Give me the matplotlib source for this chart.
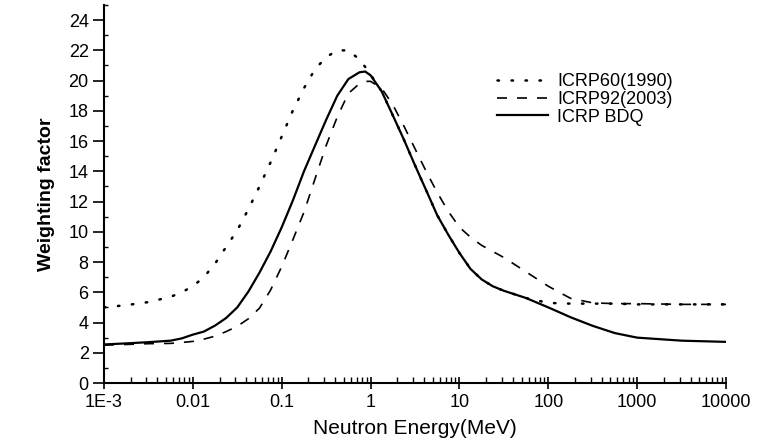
import matplotlib
matplotlib.use('Agg')
import matplotlib.pyplot as plt
from matplotlib.ticker import MultipleLocator, FixedLocator, FixedFormatter, NullFormatter, LogLocator

plt.rcParams['font.family'] = ['Liberation Sans', 'DejaVu Sans']

#----------------------------------------------------
# Data (neutron energy in MeV)
#----------------------------------------------------
energy = [0.001, 0.00178, 0.00316, 0.00562, 0.0075, 0.01, 0.0133, 0.0178,
          0.0237, 0.0316, 0.0422, 0.0562, 0.075, 0.1, 0.133, 0.178, 0.237,
          0.316, 0.422, 0.562, 0.75, 0.87, 1.0, 1.33, 1.78, 2.37, 3.16, 4.22,
          5.62, 7.5, 10.0, 13.3, 17.8, 23.7, 31.6, 56.2, 100.0, 133.0, 178.0,
          316.0, 562.0, 1000.0, 3162.0, 10000.0]

icrp60 = [5.0, 5.15, 5.35, 5.7, 6.0, 6.4, 7.0, 7.9,
          9.0, 10.1, 11.5, 13.0, 14.6, 16.3, 18.0, 19.5, 20.75,
          21.55, 22.0, 22.0, 21.4, 20.9, 20.4, 19.3, 17.7, 16.1, 14.4, 12.75,
          11.1, 9.8, 8.6, 7.55, 6.85, 6.4, 6.1, 5.62, 5.3, 5.27, 5.25,
          5.25, 5.25, 5.2, 5.2, 5.2]

icrp92 = [2.5, 2.55, 2.6, 2.62, 2.68, 2.75, 2.9, 3.1,
          3.4, 3.75, 4.25, 4.95, 6.15, 7.7, 9.45, 11.3, 13.5,
          15.7, 17.6, 19.15, 19.8, 19.95, 19.95, 19.5, 18.4, 17.0, 15.5, 14.0,
          12.6, 11.35, 10.3, 9.65, 9.1, 8.7, 8.3, 7.35, 6.4, 6.0, 5.6,
          5.3, 5.25, 5.25, 5.2, 5.2]

icrp_bdq = [2.55, 2.62, 2.7, 2.8, 2.95, 3.2, 3.4, 3.8,
            4.3, 5.0, 6.05, 7.3, 8.7, 10.3, 12.05, 14.0, 15.7,
            17.4, 19.0, 20.1, 20.55, 20.6, 20.35, 19.3, 17.7, 16.1, 14.4, 12.75,
            11.1, 9.8, 8.6, 7.55, 6.85, 6.4, 6.1, 5.62, 5.0, 4.68, 4.35,
            3.78, 3.3, 3.0, 2.8, 2.72]

labels = ['ICRP60(1990)', 'ICRP92(2003)', 'ICRP BDQ']
xtick_vals = [1e-3, 1e-2, 1e-1, 1, 10, 100, 1000, 10000]
xtick_labels = ['1E-3', '0.01', '0.1', '1', '10', '100', '1000', '10000']

#----------------------------------------------------
# Plot
#----------------------------------------------------
fig = plt.figure(figsize=(7.63, 4.43), dpi=100)
ax = fig.add_axes([104/763, 60/443, (726-104)/763, (383-5)/443])

ax.plot(energy, icrp60, color='black', linewidth=1.8, linestyle=(0, (0.6, 5)),
        dash_capstyle='round', label=labels[0])
ax.plot(energy, icrp92, color='black', linewidth=1.2, linestyle=(0, (6, 6)), label=labels[1])
ax.plot(energy, icrp_bdq, color='black', linewidth=1.6, linestyle='-', label=labels[2])

ax.set_xscale('log')
ax.set_xlim(1e-3, 1e4)
ax.set_ylim(0, 25)

ax.xaxis.set_major_locator(FixedLocator(xtick_vals))
ax.xaxis.set_major_formatter(FixedFormatter(xtick_labels))
ax.xaxis.set_minor_locator(LogLocator(base=10, subs=range(2, 10), numticks=20))
ax.xaxis.set_minor_formatter(NullFormatter())
ax.yaxis.set_minor_locator(MultipleLocator(1))
ax.set_yticks(range(0, 25, 2))

ax.tick_params(axis='y', which='major', direction='out', length=8, width=1.2, labelsize=13, pad=3)
ax.tick_params(axis='y', which='minor', direction='in', length=3, width=1)
ax.tick_params(axis='x', which='major', direction='inout', length=8, width=1.2, labelsize=13, pad=4)
ax.tick_params(axis='x', which='minor', direction='in', length=4, width=1)

for s in ['top', 'right']:
    ax.spines[s].set_visible(False)
for s in ['left', 'bottom']:
    ax.spines[s].set_linewidth(1.5)

ax.set_xlabel('Neutron Energy(MeV)', fontsize=15, labelpad=6)
ax.set_ylabel('Weighting factor', fontsize=14, weight='bold', labelpad=10)

ax.legend(loc='upper left', bbox_to_anchor=(497/763, 1 - 73/443), bbox_transform=fig.transFigure,
          frameon=False, fontsize=13, handlelength=2.8, handletextpad=0.55,
          labelspacing=0.05, borderpad=0, borderaxespad=0)

fig.savefig('out.png', dpi=100)
